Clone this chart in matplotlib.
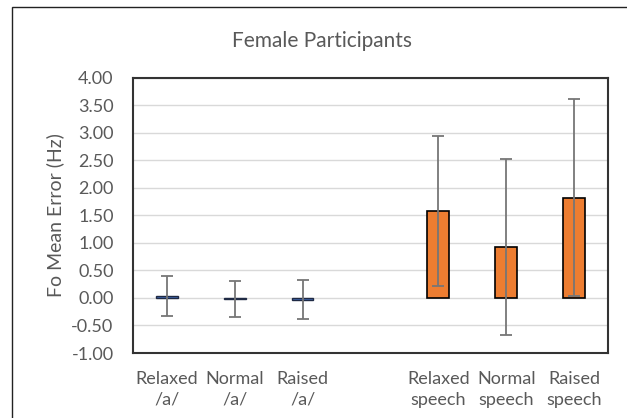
import numpy as np
import matplotlib
matplotlib.use("agg")
import matplotlib.pyplot as plt
from matplotlib.patches import Rectangle

# data
vowel_labels = ["Relaxed\n/a/", "Normal\n/a/", "Raised\n/a/"]
vowel_means = [0.04, -0.02, -0.03]
vowel_err = [0.36, 0.32, 0.36]

speech_labels = ["Relaxed\nspeech", "Normal\nspeech", "Raised\nspeech"]
speech_means = [1.58, 0.93, 1.82]
speech_err = [1.36, 1.60, 1.79]

plt.rcParams["font.family"] = ["Lato", "DejaVu Sans"]
text_grey = "#595959"

fig = plt.figure(figsize=(6.27, 4.18), dpi=100)
ax = fig.add_axes([0.2121, 0.1555, 0.7576, 0.658])

# chart area border
fig.patches.append(Rectangle((12 / 627, -0.1), 1.2, 1.1 - 7 / 418,
                             transform=fig.transFigure, fill=False,
                             edgecolor="#222222", linewidth=1.0))

vx = np.arange(len(vowel_labels))
sx = np.arange(len(speech_labels)) + len(vowel_labels) + 1
err_style = dict(ecolor="#767676", elinewidth=1.3, capsize=4, capthick=1.3)

ax.bar(vx, vowel_means, width=0.32, color="#4472C4", edgecolor="#1f2a44",
       linewidth=1.0, yerr=vowel_err, error_kw=err_style, zorder=3)
ax.bar(sx, speech_means, width=0.32, color="#ED7D31", edgecolor="black",
       linewidth=1.2, yerr=speech_err, error_kw=err_style, zorder=3)

ax.set_xlim(-0.5, 6.5)
ax.set_ylim(-1, 4)
ax.set_yticks(np.arange(-1, 4.01, 0.5))
ax.set_yticklabels([f"{v:.2f}" for v in np.arange(-1, 4.01, 0.5)])
ax.set_xticks(list(vx) + list(sx))
ax.set_xticklabels(vowel_labels + speech_labels, linespacing=1.35)
ax.tick_params(axis="both", length=0, colors=text_grey, labelsize=13)
ax.tick_params(axis="y", pad=14)
ax.tick_params(axis="x", pad=13)
ax.grid(axis="y", color="#d9d9d9", linewidth=1.0, zorder=0)
for s in ax.spines.values():
    s.set_color("#333333")
    s.set_linewidth(1.5)

ax.set_ylabel("Fo Mean Error (Hz)", color=text_grey, fontsize=14, labelpad=5)
fig.text(322 / 627, 1 - 41 / 418, "Female Participants", color=text_grey,
         fontsize=15, ha="center", va="center")

fig.savefig("out.png", dpi=100)
